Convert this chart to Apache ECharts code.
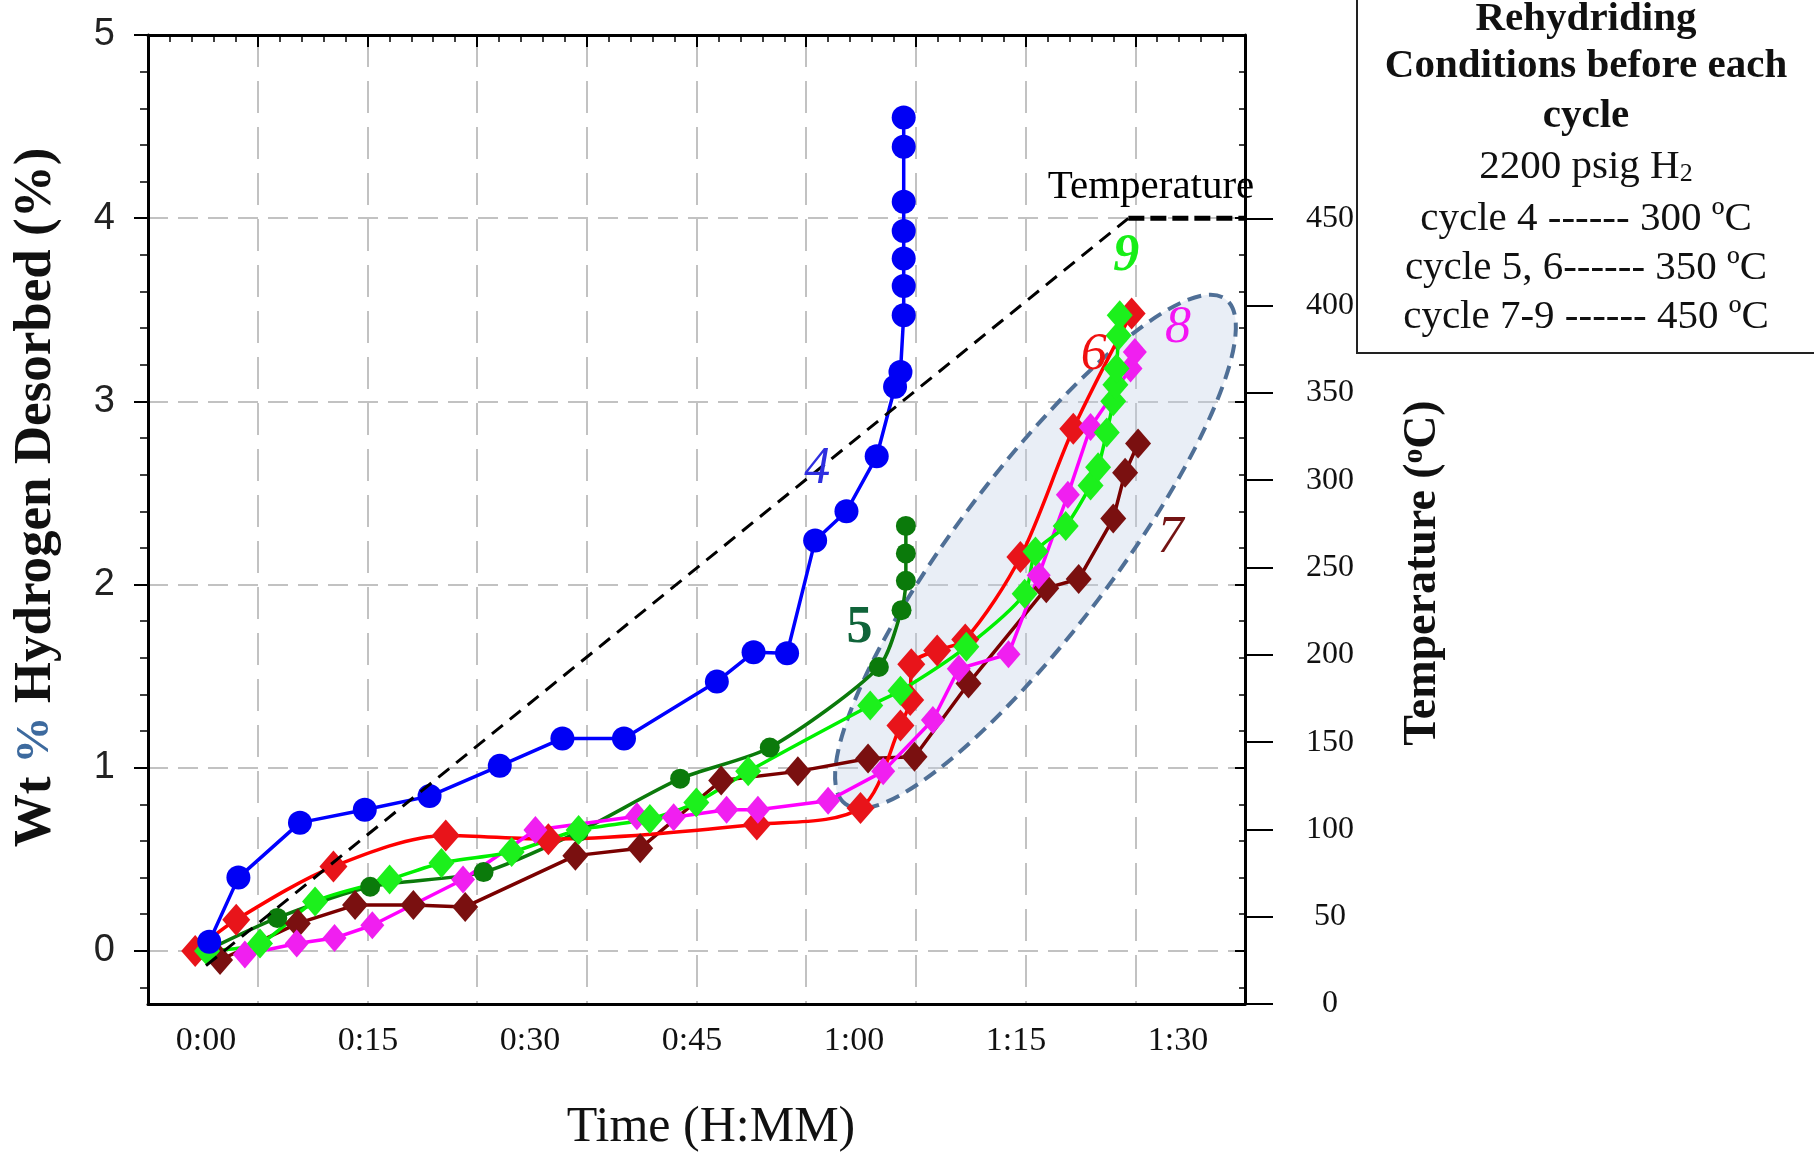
<!DOCTYPE html>
<html><head><meta charset="utf-8">
<script src="https://cdn.jsdelivr.net/npm/echarts@6/dist/echarts.min.js"></script>
<style>html,body{margin:0;padding:0;background:#fff}#c{width:1814px;height:1154px}</style>
</head><body><div id="c"></div>
<script>
// ---------- data (time in minutes, hydrogen in wt %, temperature in °C) ----------
const timeTickLabels = [0, 15, 30, 45, 60, 75, 90];
const wtTickLabels = [0, 1, 2, 3, 4, 5];
const tempTickLabels = [0, 50, 100, 150, 200, 250, 300, 350, 400, 450];

const cycle4 = [[0.3,0.05],[3.0,0.40],[8.7,0.70],[14.7,0.77],[20.7,0.845],[27.2,1.01],[33.0,1.16],[38.7,1.16],[47.3,1.47],[50.7,1.63],[53.8,1.625],[56.4,2.24],[59.3,2.40],[62.1,2.70],[63.8,3.08],[64.3,3.16],[64.6,3.47],[64.6,3.63],[64.6,3.78],[64.6,3.93],[64.6,4.09],[64.6,4.39],[64.6,4.55]];
const cycle5 = [[0.0,0.0],[6.6,0.18],[15.2,0.35],[25.7,0.43],[34.5,0.65],[43.9,0.94],[52.2,1.11],[62.3,1.55],[64.4,1.86],[64.8,2.02],[64.8,2.17],[64.8,2.32]];
const cycle6 = [[-1.0,0.0],[2.8,0.17],[11.8,0.46],[22.2,0.63],[31.7,0.61],[51.0,0.69],[60.6,0.78],[64.3,1.23],[65.2,1.37],[65.3,1.565],[67.7,1.64],[70.3,1.70],[75.4,2.15],[80.3,2.85],[85.7,3.48]];
const cycle7 = [[1.3,-0.05],[8.5,0.15],[13.8,0.25],[19.2,0.25],[24.0,0.24],[34.2,0.52],[40.2,0.56],[47.7,0.93],[54.8,0.98],[61.3,1.05],[65.6,1.06],[70.6,1.46],[77.8,1.98],[80.8,2.03],[84.0,2.36],[85.1,2.61],[86.3,2.77]];
const cycle8 = [[3.6,-0.02],[8.4,0.04],[11.9,0.07],[15.4,0.14],[23.8,0.39],[30.5,0.66],[39.9,0.735],[43.3,0.73],[48.2,0.77],[51.1,0.77],[57.6,0.82],[62.7,0.98],[67.3,1.26],[69.7,1.54],[74.3,1.62],[77.1,2.05],[79.8,2.49],[81.9,2.86],[85.6,3.18],[86.0,3.27]];
const cycle9 = [[0.1,0.0],[5.0,0.04],[10.1,0.27],[17.0,0.39],[21.8,0.48],[28.3,0.54],[34.5,0.66],[41.1,0.72],[45.4,0.81],[50.2,0.98],[61.5,1.34],[64.3,1.42],[70.4,1.66],[75.8,1.95],[76.8,2.18],[79.6,2.32],[81.9,2.54],[82.6,2.64],[83.4,2.83],[84.0,3.00],[84.2,3.09],[84.3,3.18],[84.5,3.36],[84.6,3.47]];
const temperatureRamp = [[0, 22], [85.4, 450]];
const temperatureHold = [[85.4, 450], [96.2, 450]];

const cycleNames = ['4', '5', '6', '7', '8', '9'];
const cycleLabelPos = [[56.6, 2.63], [60.5, 1.76], [82.2, 3.25], [89.3, 2.25], [90.0, 3.40], [85.2, 3.79]];
const ellipseCenter = [76.8, 2.18];

const conditionLines = ['Rehydriding', 'Conditions before each', 'cycle', '2200 psig H{sub|2}',
  'cycle 4 ------ 300 \u00baC', 'cycle 5, 6------ 350 \u00baC', 'cycle 7-9 ------ 450 \u00baC'];

// ---------- styling ----------
const serif = "'Liberation Serif','Times New Roman',serif";
const sans = "'Liberation Sans Narrow','Liberation Sans',Arial,sans-serif";
const fmtTime = v => Math.floor(v / 60) + ':' + String(Math.round(v % 60)).padStart(2, '0');
const wtMinor = [];
for (let i = -1; i < 25; i++) { if (i % 5 !== 0) wtMinor.push(+(i * 0.2).toFixed(2)); }
const WT_MIN = -0.29, WT_MAX = 5;

const chart = echarts.init(document.getElementById('c'), null, { renderer: 'canvas' });

function lineSeries(name, data, color, markColor, symbol, size, smooth) {
  return {
    name, type: 'line', data, xAxisIndex: 0, yAxisIndex: 0,
    smooth: smooth, symbol, symbolSize: size, showSymbol: true,
    lineStyle: { color, width: 3.5 }, itemStyle: { color: markColor },
    emphasis: { disabled: true }, z: 3
  };
}
const labelStyles = [
  { color: '#2e2ee0', fontStyle: 'italic' },
  { color: '#10643a', fontWeight: 'bold' },
  { color: '#f01010', fontStyle: 'italic' },
  { color: '#741414', fontStyle: 'italic' },
  { color: '#f414f4', fontStyle: 'italic' },
  { color: '#18ee18', fontStyle: 'italic', fontWeight: 'bold' }
];

const option = {
  animation: false,
  backgroundColor: '#ffffff',
  grid: { left: 148, top: 35, width: 1097, height: 969 },
  xAxis: [
    { type: 'value', min: -5.37, max: 96.2, position: 'bottom',
      axisLine: { show: true, onZero: false, lineStyle: { color: '#000', width: 3 } },
      axisTick: { show: false }, splitLine: { show: false },
      axisLabel: { customValues: timeTickLabels, formatter: fmtTime, fontFamily: serif, fontSize: 34, color: '#111', margin: 20 } },
    { type: 'value', min: 0, max: 10, interval: 1, position: 'top',
      axisLine: { show: true, onZero: false, lineStyle: { color: '#000', width: 3 } },
      axisTick: { show: true, inside: true, length: 12, lineStyle: { color: '#000', width: 2 } },
      minorTick: { show: true, splitNumber: 5, length: 7, lineStyle: { color: '#000', width: 1.5 } },
      axisLabel: { show: false }, splitLine: { show: false } },
    { type: 'value', min: 0, max: 10, position: 'top',
      axisLine: { show: false, onZero: false }, axisLabel: { show: false },
      axisTick: { show: false, customValues: [1, 2, 3, 4, 5, 6, 7, 8, 9] },
      splitLine: { show: true, lineStyle: { color: '#c2c2c2', width: 2, type: [32, 14] } } }
  ],
  yAxis: [
    { type: 'value', min: WT_MIN, max: WT_MAX, position: 'left',
      axisLine: { show: true, onZero: false, lineStyle: { color: '#000', width: 3 } },
      axisTick: { show: true, customValues: wtTickLabels, length: 14, lineStyle: { color: '#000', width: 2 } },
      axisLabel: { customValues: wtTickLabels, fontFamily: sans, fontSize: 38, color: '#222', margin: 33 },
      splitLine: { show: false } },
    { type: 'value', min: WT_MIN, max: WT_MAX, position: 'left',
      axisLine: { show: false, onZero: false }, axisLabel: { show: false }, splitLine: { show: false },
      axisTick: { show: true, customValues: wtMinor, length: 8, lineStyle: { color: '#000', width: 1.5 } } },
    { type: 'value', min: WT_MIN, max: WT_MAX, position: 'right',
      axisLine: { show: false, onZero: false }, axisLabel: { show: false },
      axisTick: { show: false, customValues: [0, 1, 2, 3, 4] },
      splitLine: { show: true, lineStyle: { color: '#c2c2c2', width: 2, type: [20, 10] } } },
    { type: 'value', min: WT_MIN, max: WT_MAX, position: 'right',
      axisLine: { show: true, onZero: false, lineStyle: { color: '#000', width: 3 } }, axisLabel: { show: false }, splitLine: { show: false },
      axisTick: { show: true, inside: true, customValues: wtTickLabels, length: 10, lineStyle: { color: '#000', width: 2 } } },
    { type: 'value', min: WT_MIN, max: WT_MAX, position: 'right',
      axisLine: { show: false, onZero: false }, axisLabel: { show: false }, splitLine: { show: false },
      axisTick: { show: true, inside: true, customValues: wtMinor, length: 6, lineStyle: { color: '#000', width: 1.5 } } },
    { type: 'value', min: 0, max: 555, position: 'right',
      axisLine: { show: false, onZero: false }, splitLine: { show: false },
      axisTick: { show: true, customValues: tempTickLabels, length: 28, lineStyle: { color: '#000', width: 2 } },
      axisLabel: { customValues: tempTickLabels, fontFamily: serif, fontSize: 32, color: '#111', margin: 85, align: 'center' } }
  ],
  series: [
    { type: 'custom', name: 'highlight', xAxisIndex: 0, yAxisIndex: 0, z: 1, silent: true,
      data: [ellipseCenter],
      renderItem: (params, api) => {
        const p = api.coord([api.value(0), api.value(1)]);
        return { type: 'ellipse', x: p[0], y: p[1], rotation: 53 * Math.PI / 180,
          shape: { cx: 0, cy: 0, rx: 316, ry: 79 },
          style: { fill: 'rgba(192,206,229,0.35)', stroke: '#4f6f96', lineWidth: 4, lineDash: [14, 8] } };
      } },
    lineSeries('Cycle 5', cycle5, '#0b7a0b', '#0b7a0b', 'circle', 20, 0.25),
    lineSeries('Cycle 7', cycle7, '#7a0000', '#7a1010', 'diamond', [26, 30], false),
    lineSeries('Cycle 6', cycle6, '#ff0000', '#e8141a', 'diamond', [28, 32], 0.3),
    lineSeries('Cycle 8', cycle8, '#ff00ff', '#f01ff0', 'diamond', [24, 28], false),
    lineSeries('Cycle 9', cycle9, '#00f000', '#1cf01c', 'diamond', [26, 30], 0.25),
    lineSeries('Cycle 4', cycle4, '#0000ff', '#0000f5', 'circle', 24, false),
    { type: 'line', name: 'Temperature', data: temperatureRamp, xAxisIndex: 0, yAxisIndex: 5,
      symbol: 'none', lineStyle: { color: '#000', width: 3, type: [14, 9] }, z: 4 },
    { type: 'line', name: 'Temperature hold', data: temperatureHold, xAxisIndex: 0, yAxisIndex: 5,
      symbol: 'none', lineStyle: { color: '#000', width: 5, type: [16, 6] }, z: 4 },
    { type: 'scatter', name: 'labels', xAxisIndex: 0, yAxisIndex: 0, symbolSize: 2,
      itemStyle: { color: 'rgba(0,0,0,0)', opacity: 1 }, z: 5, emphasis: { disabled: true },
      data: cycleNames.map((n, i) => ({ name: n, value: cycleLabelPos[i],
        label: Object.assign({ show: true, position: 'inside', formatter: '{b}', fontFamily: serif, fontSize: 52, opacity: 1 }, labelStyles[i]) })) },
    { type: 'scatter', name: 'temp label', xAxisIndex: 0, yAxisIndex: 0, symbolSize: 2,
      itemStyle: { color: 'rgba(0,0,0,0)', opacity: 1 }, z: 5, emphasis: { disabled: true },
      data: [{ name: 'Temperature', value: [87.5, 4.17] }],
      label: { show: true, position: 'inside', formatter: '{b}', fontFamily: serif, fontSize: 41, color: '#000', opacity: 1 } }
  ],
  graphic: [
    { type: 'text', x: 36, y: 430 * 1.157, rotation: Math.PI / 2, z: 10,
      style: { text: '{b|Wt }{c|%}{b| Hydrogen Desorbed (%)}', textAlign: 'center', textVerticalAlign: 'middle',
        rich: { b: { fontFamily: serif, fontWeight: 'bold', fontSize: 53, fill: '#111' },
                c: { fontFamily: serif, fontWeight: 'bold', fontSize: 47, fill: '#3d6a9e' } } } },
    { type: 'text', x: 1423, y: 573, rotation: Math.PI / 2, z: 10,
      style: { text: '{b|Temperature (}{s|o}{b|C)}', textAlign: 'center', textVerticalAlign: 'middle',
        rich: { b: { fontFamily: serif, fontWeight: 'bold', fontSize: 46, fill: '#111' },
                s: { fontFamily: serif, fontWeight: 'bold', fontSize: 29, fill: '#111', verticalAlign: 'top' } } } },
    { type: 'text', x: 711, y: 1128, z: 10,
      style: { text: 'Time (H:MM)', textAlign: 'center', textVerticalAlign: 'middle', fontFamily: serif, fontSize: 50, fill: '#111' } },
    { type: 'rect', shape: { x: 1357, y: -5, width: 480, height: 358 }, z: 10,
      style: { fill: '#fff', stroke: '#222', lineWidth: 2 } },
    ...conditionLines.map((t, i) => ({
      type: 'text', x: 1586, y: [19, 66, 116, 167, 219, 268, 317][i], z: 11,
      style: { text: t, textAlign: 'center', textVerticalAlign: 'middle', fontFamily: serif, fontSize: 41,
        fontWeight: i < 3 ? 'bold' : 'normal', fill: '#111',
        rich: { sub: { fontFamily: serif, fontSize: 26, fill: '#111', verticalAlign: 'bottom', padding: [14, 0, 0, 0] } } }
    }))
  ]
};
chart.setOption(option);
</script></body></html>
